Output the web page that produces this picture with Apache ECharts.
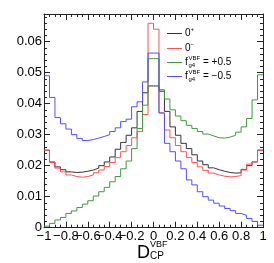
<!DOCTYPE html>
<html><head><meta charset="utf-8">
<script src="https://cdn.jsdelivr.net/npm/echarts@6/dist/echarts.min.js"></script>
<style>html,body{margin:0;padding:0;background:#fff}#c{width:274px;height:263px}</style>
</head><body><div id="c"></div>
<script>
// ---- data ----
const xMin = -1, xMax = 1, binWidth = 0.05;
const xTickLabels = ['−1','−0.8','−0.6','−0.4','−0.2','0','0.2','0.4','0.6','0.8','1'];
const yTickLabels = ['0','0.01','0.02','0.03','0.04','0.05','0.06'];
const seriesNames = ['0+', '0−', 'fg4=+0.5', 'fg4=−0.5'];
const h0plus = [0.0250,0.0212,0.0196,0.0187,0.0180,0.0178,0.0179,0.0182,0.0186,0.0192,0.0200,0.0212,0.0228,0.0253,0.0275,0.0298,0.0322,0.0375,0.0435,0.0457,
                0.0457,0.0440,0.0375,0.0325,0.0298,0.0272,0.0255,0.0235,0.0215,0.0203,0.0193,0.0187,0.0182,0.0178,0.0176,0.0177,0.0188,0.0200,0.0212,0.0250];
const h0minus = [0.0250,0.0210,0.0192,0.0180,0.0170,0.0165,0.0163,0.0165,0.0170,0.0177,0.0186,0.0197,0.0210,0.0226,0.0245,0.0265,0.0290,0.0310,0.0365,0.0659,
                 0.0640,0.0370,0.0315,0.0290,0.0265,0.0245,0.0226,0.0210,0.0196,0.0185,0.0176,0.0170,0.0166,0.0164,0.0165,0.0168,0.0186,0.0205,0.0212,0.0250];
const hfPlus = [0.0005,0.0014,0.0025,0.0033,0.0046,0.0054,0.0065,0.0076,0.0087,0.0102,0.0116,0.0130,0.0148,0.0165,0.0190,0.0215,0.0255,0.0320,0.0395,0.0545,
                0.0545,0.0445,0.0415,0.0380,0.0360,0.0345,0.0330,0.0320,0.0310,0.0302,0.0296,0.0290,0.0289,0.0292,0.0298,0.0308,0.0325,0.0352,0.0412,0.0493];
const hfMinus = [0.0490,0.0420,0.0355,0.0335,0.0318,0.0300,0.0288,0.0281,0.0284,0.0289,0.0294,0.0300,0.0310,0.0322,0.0342,0.0350,0.0390,0.0406,0.0470,0.0563,
                 0.0563,0.0370,0.0272,0.0245,0.0215,0.0190,0.0154,0.0138,0.0116,0.0100,0.0089,0.0079,0.0070,0.0062,0.0055,0.0046,0.0040,0.0030,0.0020,0.0008];
const colors = ['#333333', '#ff5252', '#3f9a3f', '#5050ff'];

// ---- build ----
function histPoints(vals) {
  const pts = vals.map((v, i) => [+(xMin + i * binWidth).toFixed(4), v]);
  pts.push([xMax, vals[vals.length - 1]]);
  return pts;
}
const allVals = [h0plus, h0minus, hfPlus, hfMinus];
const FONT = 'Liberation Sans, Arial, Helvetica, sans-serif';
const chart = echarts.init(document.getElementById('c'), null, {renderer: 'canvas'});

const frameLine = {show: true, onZero: false, lineStyle: {color: '#222', width: 1}};
function xLab(v) {
  const i = Math.round((v - xMin) / 0.2);
  return (Math.abs(xMin + i * 0.2 - v) < 1e-6 && xTickLabels[i] !== undefined) ? xTickLabels[i] : '';
}
function yLab(v) {
  const i = Math.round(v / 0.01);
  return (Math.abs(i * 0.01 - v) < 1e-9 && yTickLabels[i] !== undefined) ? yTickLabels[i] : '';
}
const tickStyle = {color: '#222', width: 1};

const option = {
  animation: false,
  backgroundColor: '#fff',
  grid: {left: 44, right: 11, top: 14, bottom: 35.3, containLabel: false},
  xAxis: [
    {type: 'value', min: xMin, max: xMax, interval: 0.2, position: 'bottom',
     axisLine: frameLine, splitLine: {show: false},
     axisTick: {inside: true, length: 6, lineStyle: tickStyle},
     minorTick: {show: true, splitNumber: 4, length: 3, lineStyle: tickStyle},
     axisLabel: {formatter: xLab, fontFamily: FONT, fontSize: 13, color: '#000', margin: 2,
                 showMinLabel: true, showMaxLabel: true, hideOverlap: false}},
    {type: 'value', min: xMin, max: xMax, interval: 0.2, position: 'top',
     axisLine: frameLine, splitLine: {show: false},
     axisTick: {inside: true, length: 6, lineStyle: tickStyle},
     minorTick: {show: true, splitNumber: 4, length: 3, lineStyle: tickStyle},
     axisLabel: {show: false}}
  ],
  yAxis: [
    {type: 'value', min: 0, max: 0.0689, interval: 0.01, position: 'left',
     axisLine: frameLine, splitLine: {show: false},
     axisTick: {inside: true, length: 6, lineStyle: tickStyle},
     minorTick: {show: true, splitNumber: 5, length: 3, lineStyle: tickStyle},
     axisLabel: {formatter: yLab, fontFamily: FONT, fontSize: 13, color: '#000', margin: 2,
                 showMinLabel: true, showMaxLabel: true}},
    {type: 'value', min: 0, max: 0.0689, interval: 0.01, position: 'right',
     axisLine: frameLine, splitLine: {show: false},
     axisTick: {inside: true, length: 6, lineStyle: tickStyle},
     minorTick: {show: true, splitNumber: 5, length: 3, lineStyle: tickStyle},
     axisLabel: {show: false}}
  ],
  series: allVals.map((vals, k) => ({
    name: seriesNames[k], type: 'line', step: 'end', symbol: 'none',
    xAxisIndex: 0, yAxisIndex: 0,
    lineStyle: {color: colors[k], width: 1}, itemStyle: {color: colors[k]},
    data: histPoints(vals), z: 2 + k
  })),
  graphic: [
    // axis title D_CP^VBF
    {type: 'text', left: 137, top: 244, style: {text: 'D', font: '18px ' + FONT, fill: '#000'}},
    {type: 'text', left: 150, top: 240, style: {text: 'VBF', font: '9px ' + FONT, fill: '#000'}},
    {type: 'text', left: 150, top: 251, style: {text: 'CP', font: '10px ' + FONT, fill: '#000'}},
    // legend
    {type: 'line', shape: {x1: 167, y1: 33.5, x2: 182, y2: 33.5}, style: {stroke: colors[0], lineWidth: 1}},
    {type: 'line', shape: {x1: 167, y1: 48.5, x2: 182, y2: 48.5}, style: {stroke: colors[1], lineWidth: 1}},
    {type: 'line', shape: {x1: 167, y1: 62.5, x2: 182, y2: 62.5}, style: {stroke: colors[2], lineWidth: 1}},
    {type: 'line', shape: {x1: 167, y1: 76.5, x2: 182, y2: 76.5}, style: {stroke: colors[3], lineWidth: 1}},
    {type: 'text', left: 185, top: 28, style: {text: '0', font: '10px ' + FONT, fill: '#000'}},
    {type: 'text', left: 190.5, top: 26, style: {text: '+', font: '6px ' + FONT, fill: '#000'}},
    {type: 'text', left: 185, top: 43, style: {text: '0', font: '10px ' + FONT, fill: '#000'}},
    {type: 'text', left: 190.5, top: 41, style: {text: '−', font: '6px ' + FONT, fill: '#000'}},
    {type: 'text', left: 185, top: 57, style: {text: 'f', font: '10px ' + FONT, fill: '#000'}},
    {type: 'text', left: 188.5, top: 55, style: {text: 'VBF', font: '6px ' + FONT, fill: '#000'}},
    {type: 'text', left: 188.5, top: 62, style: {text: 'g4', font: '6px ' + FONT, fill: '#000'}},
    {type: 'text', left: 203, top: 57, style: {text: '= +0.5', font: '10px ' + FONT, fill: '#000'}},
    {type: 'text', left: 185, top: 71, style: {text: 'f', font: '10px ' + FONT, fill: '#000'}},
    {type: 'text', left: 188.5, top: 69, style: {text: 'VBF', font: '6px ' + FONT, fill: '#000'}},
    {type: 'text', left: 188.5, top: 76, style: {text: 'g4', font: '6px ' + FONT, fill: '#000'}},
    {type: 'text', left: 203, top: 71, style: {text: '= −0.5', font: '10px ' + FONT, fill: '#000'}}
  ]
};
chart.setOption(option);
</script>
</body></html>
